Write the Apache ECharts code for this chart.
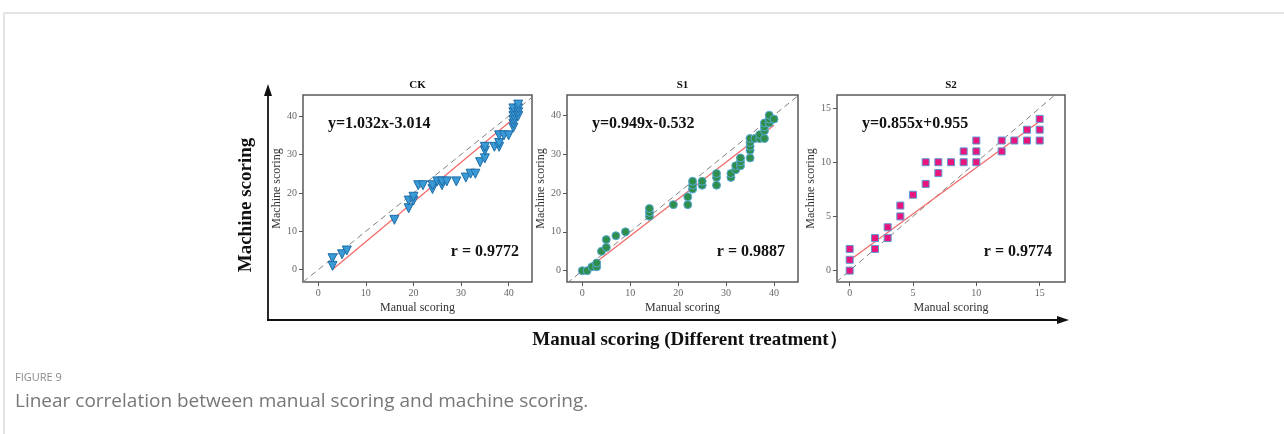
<!DOCTYPE html>
<html>
<head>
<meta charset="utf-8">
<style>
  html, body { margin: 0; padding: 0; background: #fff; }
  #main { width: 1284px; height: 434px; }
</style>
<script src="https://cdn.jsdelivr.net/npm/echarts@6/dist/echarts.min.js"></script>
</head>
<body>
<div id="main"></div>
<script>
// CK panel
var ckManual = [3, 3, 5, 6, 16, 19, 19, 20, 20, 21, 22, 24, 24, 25, 26, 26, 27, 29, 31, 32, 33, 34, 35, 35, 35, 37, 38, 38, 38, 39, 40, 41, 41, 41, 41, 41, 41, 42, 42, 42, 42];
var ckMachine = [3, 1, 4, 5, 13, 16, 18, 18, 19, 22, 22, 21, 22, 23, 22, 23, 23, 23, 24, 25, 25, 28, 29, 31, 32, 32, 32, 33, 35, 35, 35, 37, 38, 39, 40, 41, 42, 40, 41, 42, 43];
// S1 panel
var s1Manual = [0, 1, 2, 3, 3, 4, 5, 5, 7, 9, 14, 14, 14, 19, 22, 22, 23, 23, 23, 25, 25, 28, 28, 28, 31, 31, 32, 32, 33, 33, 33, 35, 35, 35, 35, 35, 36, 37, 37, 38, 38, 38, 38, 39, 39, 39, 40];
var s1Machine = [0, 0, 1, 1, 2, 5, 6, 8, 9, 10, 14, 15, 16, 17, 17, 19, 21, 22, 23, 22, 23, 22, 24, 25, 24, 25, 26, 27, 27, 28, 29, 29, 31, 32, 33, 34, 34, 34, 35, 34, 36, 37, 38, 38, 39, 40, 39];
// S2 panel
var s2Manual = [0, 0, 0, 2, 2, 3, 3, 4, 4, 5, 6, 6, 7, 7, 8, 9, 9, 10, 10, 10, 12, 12, 13, 14, 14, 15, 15, 15];
var s2Machine = [0, 1, 2, 2, 3, 3, 4, 5, 6, 7, 8, 10, 9, 10, 10, 10, 11, 10, 11, 12, 11, 12, 12, 12, 13, 12, 13, 14];

// fitted lines: [slope, intercept], and r
var ckFit = [1.032, -3.014];
var s1Fit = [0.949, -0.532];
var s2Fit = [0.855, 0.955];
var rValues = ['0.9772', '0.9887', '0.9774'];

var ticks40 = [0, 10, 20, 30, 40];
var ticks15 = [0, 5, 10, 15];

var serif = '"Liberation Serif", "DejaVu Serif", serif';

var panels = [
  {
    name: 'CK', xs: ckManual, ys: ckMachine, fit: ckFit, r: rValues[0],
    box: [303, 95, 229, 187], xRange: [-3.2, 44.9], yRange: [-3.2, 45.5],
    xTicks: ticks40, yTicks: ticks40,
    symbol: 'triangle', rotate: 180, size: 9, fill: '#3a9ad6', edge: '#1f6ea8'
  },
  {
    name: 'S1', xs: s1Manual, ys: s1Machine, fit: s1Fit, r: rValues[1],
    box: [567, 95, 231, 187], xRange: [-3.2, 45], yRange: [-2.9, 45.2],
    xTicks: ticks40, yTicks: ticks40,
    symbol: 'circle', rotate: 0, size: 8, fill: '#2e8f4c', edge: '#5aa9d9'
  },
  {
    name: 'S2', xs: s2Manual, ys: s2Machine, fit: s2Fit, r: rValues[2],
    box: [837, 95, 228, 187], xRange: [-1, 17], yRange: [-1.05, 16.2],
    xTicks: ticks15, yTicks: ticks15,
    symbol: 'rect', rotate: 0, size: 7, fill: '#e8157c', edge: '#5b9bd5'
  }
];

var grids = [], xAxes = [], yAxes = [], series = [], graphics = [];

// card frame
graphics.push({
  type: 'rect', shape: { x: 4, y: 13, width: 1300, height: 460 },
  style: { fill: 'none', stroke: '#dcdcdc', lineWidth: 1.5 }, z: 0
});

function axisCommon(range, ticks, name, gap) {
  return {
    type: 'value',
    min: range[0],
    max: range[1],
    name: name,
    nameLocation: 'middle',
    nameGap: gap,
    nameTextStyle: { fontFamily: serif, fontSize: 12, color: '#333' },
    axisLine: { show: false, onZero: false },
    splitLine: { show: false },
    axisTick: { show: true, length: 4, customValues: ticks, lineStyle: { color: '#555' } },
    axisLabel: { customValues: ticks, fontFamily: serif, fontSize: 10, color: '#666', margin: 6 }
  };
}

panels.forEach(function(p, i) {
  grids.push({
    left: p.box[0], top: p.box[1], width: p.box[2], height: p.box[3],
    show: true, borderColor: '#5a5a5a', borderWidth: 1.5, backgroundColor: '#fff'
  });
  xAxes.push(Object.assign(axisCommon(p.xRange, p.xTicks, 'Manual scoring', 20), { gridIndex: i, position: 'bottom' }));
  yAxes.push(Object.assign(axisCommon(p.yRange, p.yTicks, 'Machine scoring', 18), { gridIndex: i, position: 'left' }));

  // y = x reference
  var lo = Math.min(p.xRange[0], p.yRange[0]);
  var hi = Math.max(p.xRange[1], p.yRange[1]);
  series.push({
    type: 'line', xAxisIndex: i, yAxisIndex: i, clip: true, silent: true,
    symbol: 'none', data: [[lo, lo], [hi, hi]],
    lineStyle: { color: '#808080', width: 1, type: [6, 4] }, z: 2
  });

  // fitted line over the data span
  var x0 = Math.min.apply(null, p.xs);
  var x1 = Math.max.apply(null, p.xs);
  series.push({
    type: 'line', xAxisIndex: i, yAxisIndex: i, silent: true,
    symbol: 'none',
    data: [[x0, p.fit[0] * x0 + p.fit[1]], [x1, p.fit[0] * x1 + p.fit[1]]],
    lineStyle: { color: '#f26b6b', width: 1.3 }, z: 3
  });

  var pts = [];
  for (var k = 0; k < p.xs.length; k++) pts.push([p.xs[k], p.ys[k]]);
  series.push({
    type: 'scatter', xAxisIndex: i, yAxisIndex: i,
    symbol: p.symbol, symbolRotate: p.rotate, symbolSize: p.size,
    data: pts,
    itemStyle: { color: p.fill, borderColor: p.edge, borderWidth: 1, opacity: 1 },
    z: 4
  });

  var cx = p.box[0] + p.box[2] / 2;
  graphics.push({
    type: 'text', x: cx, y: 85,
    style: { text: p.name, font: 'bold 11px ' + serif, fill: '#111', align: 'center', verticalAlign: 'middle' }, z: 10
  });
  var sign = p.fit[1] < 0 ? '-' : '+';
  graphics.push({
    type: 'text', x: p.box[0] + 25, y: 124,
    style: {
      text: 'y=' + p.fit[0].toFixed(3) + 'x' + sign + Math.abs(p.fit[1]).toFixed(3),
      font: 'bold 16px ' + serif, fill: '#111', align: 'left', verticalAlign: 'middle'
    }, z: 10
  });
  graphics.push({
    type: 'text', x: p.box[0] + p.box[2] - 13, y: 252,
    style: { text: 'r = ' + p.r, font: 'bold 16px ' + serif, fill: '#111', align: 'right', verticalAlign: 'middle' }, z: 10
  });
});

// outer axes with arrows
graphics.push({
  type: 'polyline', shape: { points: [[268, 320], [268, 92]] },
  style: { stroke: '#111', lineWidth: 1.8, fill: null }, z: 10
});
graphics.push({
  type: 'polygon', shape: { points: [[264, 96], [268, 84], [272, 96]] },
  style: { fill: '#111' }, z: 10
});
graphics.push({
  type: 'polyline', shape: { points: [[267, 320], [1060, 320]] },
  style: { stroke: '#111', lineWidth: 1.8, fill: null }, z: 10
});
graphics.push({
  type: 'polygon', shape: { points: [[1057, 316], [1069, 320], [1057, 324]] },
  style: { fill: '#111' }, z: 10
});
graphics.push({
  type: 'text', x: 246, y: 205, rotation: Math.PI / 2,
  style: { text: 'Machine scoring', font: 'bold 19px ' + serif, fill: '#111', align: 'center', verticalAlign: 'middle' }, z: 10
});
graphics.push({
  type: 'text', x: 690, y: 340,
  style: { text: 'Manual scoring (Different treatment）', font: 'bold 19px ' + serif, fill: '#111', align: 'center', verticalAlign: 'middle' }, z: 10
});

// caption
graphics.push({
  type: 'text', x: 15, y: 378,
  style: { text: 'FIGURE 9', font: '11px "Open Sans", sans-serif', fill: '#888', align: 'left', verticalAlign: 'middle' }, z: 10
});
graphics.push({
  type: 'text', x: 15, y: 402,
  style: { text: 'Linear correlation between manual scoring and machine scoring.', font: '19px "Open Sans", sans-serif', fill: '#777', align: 'left', verticalAlign: 'middle' }, z: 10
});

var chart = echarts.init(document.getElementById('main'));
chart.setOption({
  animation: false,
  backgroundColor: '#fff',
  grid: grids,
  xAxis: xAxes,
  yAxis: yAxes,
  series: series,
  graphic: graphics
});
</script>
</body>
</html>
